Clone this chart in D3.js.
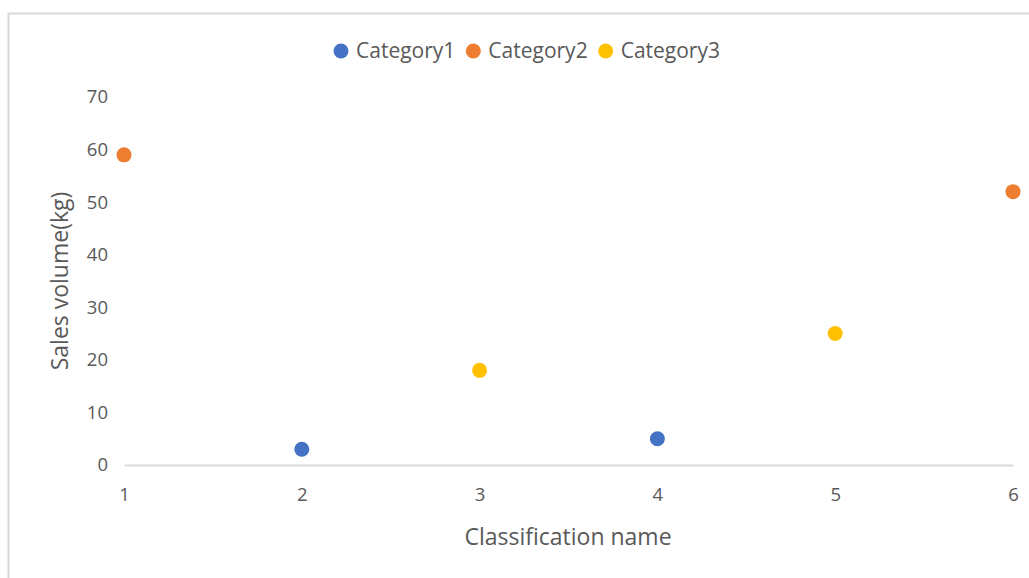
<!DOCTYPE html>
<html>
<head>
<meta charset="utf-8">
<script src="https://cdn.jsdelivr.net/npm/d3@7"></script>
<style>
  html, body { margin: 0; padding: 0; background: #fff; }
  svg { display: block; font-family: "Open Sans", "Noto Sans", sans-serif; }
</style>
</head>
<body>
<svg id="chart" width="1029" height="578"></svg>
<script>
// Series data: x position (classification index) and sales volume in kg
const seriesNames = ["Category1", "Category2", "Category3"];
const seriesColors = ["#4472C4", "#ED7D31", "#FFC000"];
const category1 = [{x: 2, y: 3}, {x: 4, y: 5}];
const category2 = [{x: 1, y: 59}, {x: 6, y: 52}];
const category3 = [{x: 3, y: 18}, {x: 5, y: 25}];
const xTicks = [1, 2, 3, 4, 5, 6];
const yTicks = [0, 10, 20, 30, 40, 50, 60, 70];
const xTitle = "Classification name";
const yTitle = "Sales volume(kg)";

const series = [category1, category2, category3];
const FONT = '"Open Sans", "Noto Sans", sans-serif';

const svg = d3.select("#chart");

// Outer chart frame
svg.append("rect")
  .attr("x", 8.5).attr("y", 13.5)
  .attr("width", 1040).attr("height", 600)
  .attr("fill", "#fff")
  .attr("stroke", "#d9d9d9").attr("stroke-width", 2);

const x = d3.scaleLinear().domain([1, 6]).range([124, 1013]);
const y = d3.scaleLinear().domain([0, 70]).range([465, 97]);

// X axis: baseline plus labels
const xAxis = d3.axisBottom(x).tickValues(xTicks).tickSize(0).tickPadding(23).tickFormat(d3.format("d"));
const gx = svg.append("g").attr("transform", `translate(0,${y(0)})`).call(xAxis)
  .attr("font-family", FONT).attr("font-size", 18.5);
gx.select(".domain").attr("stroke", "#d9d9d9").attr("stroke-width", 2);
gx.selectAll("text").attr("fill", "#595959");

// Y axis: labels only
const yAxis = d3.axisLeft(y).tickValues(yTicks).tickSize(0).tickPadding(0).tickFormat(d3.format("d"));
const gy = svg.append("g").attr("transform", "translate(108,0)").call(yAxis)
  .attr("font-family", FONT).attr("font-size", 18.5);
gy.select(".domain").remove();
gy.selectAll("text").attr("fill", "#595959");

// Axis titles
svg.append("text")
  .attr("x", 568).attr("y", 545)
  .attr("text-anchor", "middle")
  .attr("fill", "#595959").attr("font-size", 23)
  .text(xTitle);

svg.append("text")
  .attr("transform", `translate(68,${281}) rotate(-90)`)
  .attr("text-anchor", "middle")
  .attr("fill", "#595959").attr("font-size", 23)
  .text(yTitle);

// Points
series.forEach((pts, i) => {
  svg.append("g").selectAll("circle")
    .data(pts).join("circle")
    .attr("cx", d => x(d.x))
    .attr("cy", d => y(d.y))
    .attr("r", 7.5)
    .attr("fill", seriesColors[i]);
});

// Legend
const legend = svg.append("g").attr("transform", "translate(0,51)");
let lx = 341;
seriesNames.forEach((name, i) => {
  const g = legend.append("g").attr("transform", `translate(${lx},0)`);
  g.append("circle").attr("r", 7.5).attr("fill", seriesColors[i]);
  const t = g.append("text")
    .attr("x", 15).attr("dy", "0.35em")
    .attr("fill", "#595959").attr("font-size", 21)
    .text(name);
  lx += 15 + t.node().getComputedTextLength() + 18;
});
</script>
</body>
</html>
